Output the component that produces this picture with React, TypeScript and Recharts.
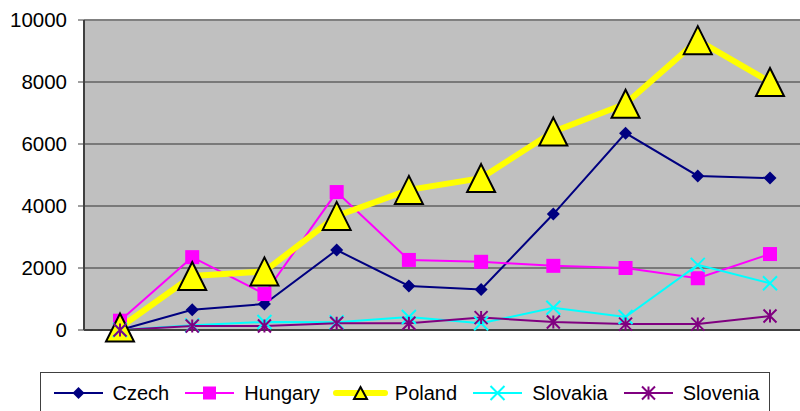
import React from "react";
import {
  LineChart,
  Line,
  CartesianGrid,
  XAxis,
  YAxis,
  Legend,
  ReferenceLine,
} from "recharts";

const periods = ["1", "2", "3", "4", "5", "6", "7", "8", "9", "10"];
const czech = [0, 650, 840, 2580, 1420, 1310, 3740, 6350, 4970, 4900];
const hungary = [300, 2350, 1160, 4450, 2260, 2200, 2070, 2000, 1670, 2450];
const poland = [80, 1740, 1890, 3680, 4520, 4900, 6400, 7300, 9350, 8000];
const slovakia = [0, 150, 260, 250, 420, 220, 720, 420, 2100, 1510];
const slovenia = [0, 130, 130, 220, 220, 400, 260, 190, 190, 450];
const yTicks = [0, 2000, 4000, 6000, 8000, 10000];

const data = periods.map((p, i) => ({
  period: p,
  Czech: czech[i],
  Hungary: hungary[i],
  Poland: poland[i],
  Slovakia: slovakia[i],
  Slovenia: slovenia[i],
}));

type Shape = "diamond" | "square" | "triangle" | "cross" | "star";

// draws one marker shape centred on (cx, cy)
const marker = (shape: Shape, color: string, cx: number, cy: number, r: number) => {
  switch (shape) {
    case "diamond":
      return (
        <polygon
          points={`${cx},${cy - r} ${cx + r},${cy} ${cx},${cy + r} ${cx - r},${cy}`}
          fill={color}
        />
      );
    case "square":
      return <rect x={cx - r} y={cy - r} width={r * 2} height={r * 2} fill={color} />;
    case "triangle":
      return (
        <polygon
          points={`${cx},${cy - r} ${cx + r},${cy + r} ${cx - r},${cy + r}`}
          fill="#FFFF00"
          stroke="#000"
          strokeWidth={2}
          strokeLinejoin="miter"
        />
      );
    case "cross":
      return (
        <path
          d={`M${cx - r},${cy - r}L${cx + r},${cy + r}M${cx - r},${cy + r}L${cx + r},${cy - r}`}
          stroke={color}
          strokeWidth={2}
        />
      );
    case "star":
      return (
        <path
          d={`M${cx - r},${cy - r}L${cx + r},${cy + r}M${cx - r},${cy + r}L${cx + r},${cy - r}M${cx},${cy - r}L${cx},${cy + r}`}
          stroke={color}
          strokeWidth={2}
        />
      );
  }
};

const series: {
  key: string;
  color: string;
  width: number;
  shape: Shape;
  size: number;
  legendSize: number;
}[] = [
  { key: "Czech", color: "#000080", width: 2, shape: "diamond", size: 6.5, legendSize: 6 },
  { key: "Hungary", color: "#FF00FF", width: 2, shape: "square", size: 7, legendSize: 6.5 },
  { key: "Poland", color: "#FFFF00", width: 6, shape: "triangle", size: 14, legendSize: 6 },
  { key: "Slovakia", color: "#00FFFF", width: 2, shape: "cross", size: 7, legendSize: 7 },
  { key: "Slovenia", color: "#800080", width: 2, shape: "star", size: 6.5, legendSize: 6.5 },
];

const LegendBox = () => (
  <div
    style={{
      boxSizing: "border-box",
      width: 730,
      height: 44,
      border: "1px solid #404040",
      background: "#fff",
      display: "flex",
      alignItems: "flex-start",
      justifyContent: "center",
      paddingTop: 6,
      gap: 13,
      fontSize: 20,
      color: "#000",
    }}
  >
    {series.map((s) => (
      <div key={s.key} style={{ display: "flex", alignItems: "center", height: 28 }}>
        <svg width={55} height={28} style={{ marginRight: 7 }}>
          <line
            x1={3}
            y1={14}
            x2={52}
            y2={14}
            stroke={s.color}
            strokeWidth={s.width}
            strokeLinecap={s.key === "Poland" ? "round" : "butt"}
          />
          {s.shape === "triangle" ? (
            <polygon points="27.5,8 34,20 21,20" fill="#FFFF00" stroke="#000" strokeWidth={2} />
          ) : (
            marker(s.shape, s.color, 27.5, 14, s.legendSize)
          )}
        </svg>
        <span>{s.key}</span>
      </div>
    ))}
  </div>
);

const App = () => {
  return (
    <div
      style={{
        position: "absolute",
        left: 0,
        top: 0,
        width: 800,
        height: 411,
        overflow: "hidden",
        background: "#fff",
        fontFamily: "'Liberation Sans', Arial, sans-serif",
      }}
    >
      <LineChart
        width={820}
        height={411}
        data={data}
        margin={{ top: 20, right: 14, left: 0, bottom: 80 }}
      >
        <CartesianGrid
          vertical={false}
          fill="#C0C0C0"
          stroke="#333"
          strokeWidth={1}
          fillOpacity={1}
        />
        <XAxis
          dataKey="period"
          tick={false}
          tickLine={false}
          height={1}
          padding={{ left: 36, right: 36 }}
          axisLine={{ stroke: "#404040", strokeWidth: 2 }}
        />
        <YAxis
          width={84}
          domain={[0, 10000]}
          ticks={yTicks}
          interval={0}
          tickSize={6}
          tickMargin={11}
          axisLine={{ stroke: "#404040", strokeWidth: 2 }}
          tickLine={{ stroke: "#404040", strokeWidth: 1 }}
          tick={{ fill: "#000", fontSize: 20.5 }}
        />
        <ReferenceLine y={10000} stroke="#808080" strokeWidth={2} />
        {series.map((s) => (
          <Line
            key={s.key}
            type="linear"
            dataKey={s.key}
            stroke={s.color}
            strokeWidth={s.width}
            isAnimationActive={false}
            dot={(p: any) => (
              <g key={`${s.key}-${p.index}`}>{marker(s.shape, s.color, p.cx, p.cy, s.size)}</g>
            )}
            activeDot={false}
          />
        ))}
        <Legend
          layout="horizontal"
          verticalAlign="middle"
          align="center"
          wrapperStyle={{ left: 40, top: 372, width: 730 }}
          content={() => <LegendBox />}
        />
      </LineChart>
    </div>
  );
};

export default App;
